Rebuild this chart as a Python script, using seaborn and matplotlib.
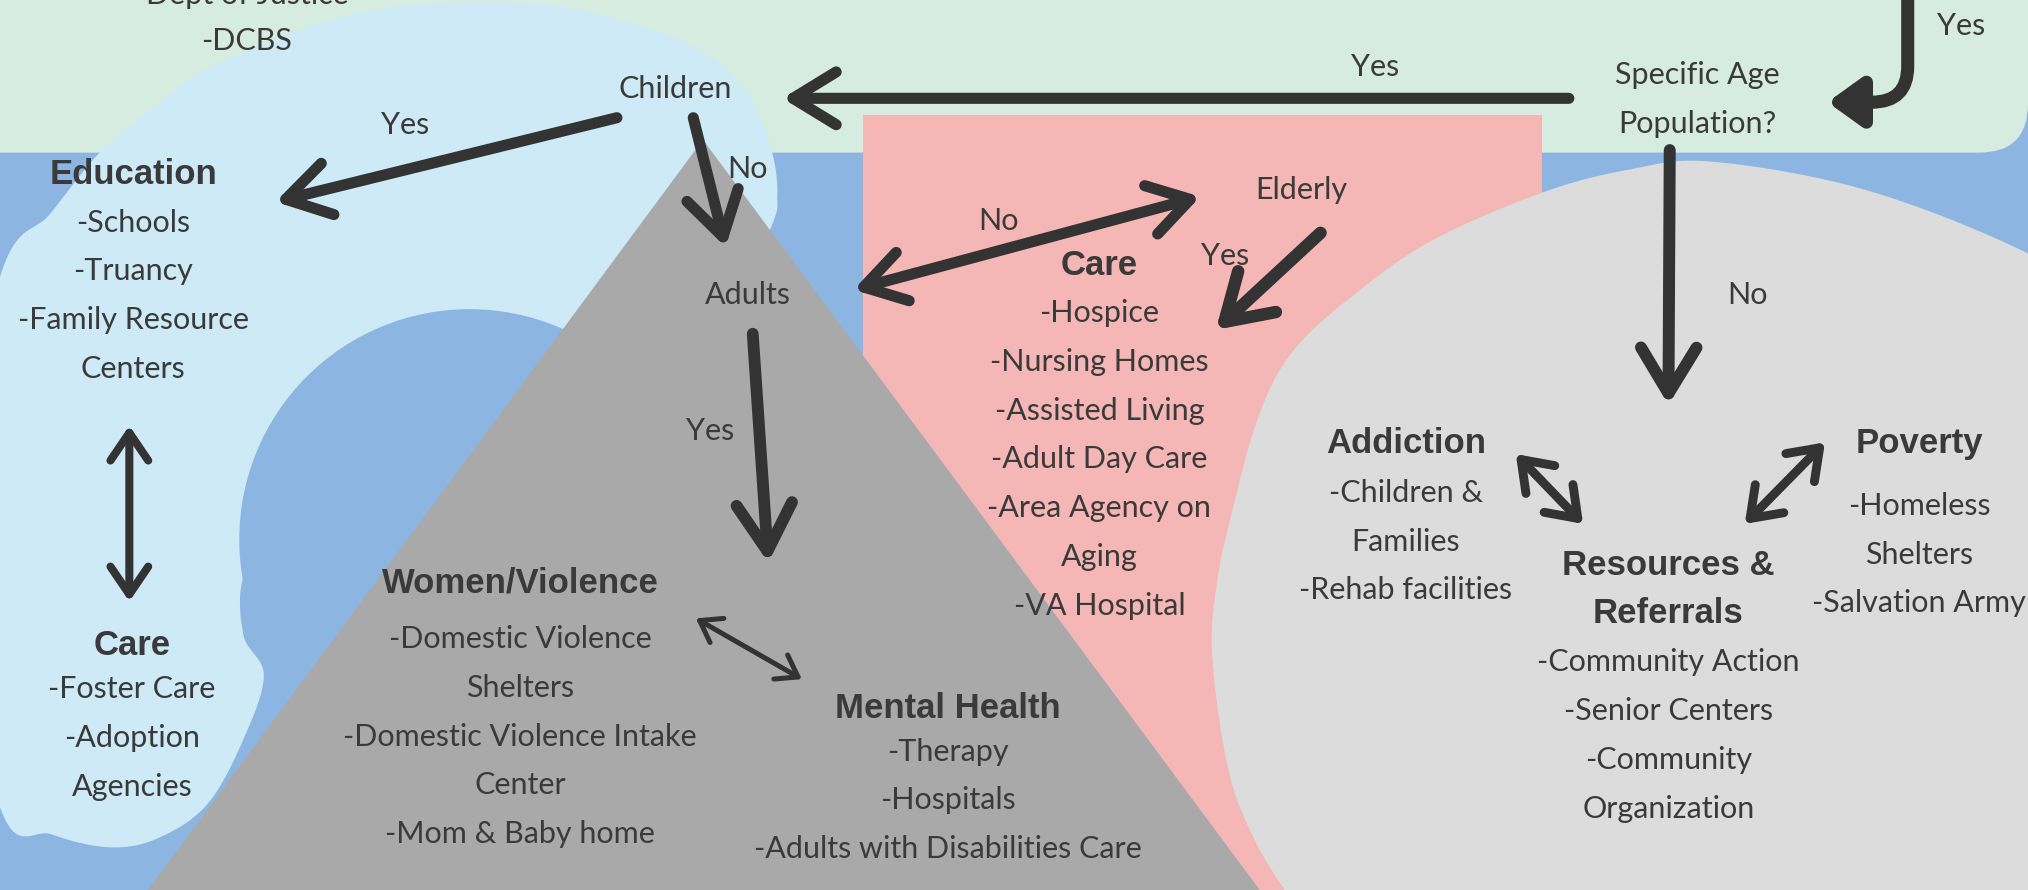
import numpy as np
import matplotlib
matplotlib.use("Agg")
import matplotlib.pyplot as plt
from matplotlib.patches import Polygon, Circle, Rectangle, FancyBboxPatch
import seaborn as sns

sns.set_theme(style="white")
plt.rcParams["font.family"] = ["Lato", "DejaVu Sans"]

# colours
BLUE = "#8cb6e1"
GREEN = "#d6ece0"
LIGHT_BLUE = "#cdeaf6"
PINK = "#f5b6b6"
DARK_GREY = "#a9a9a9"
LIGHT_GREY = "#dcdcdc"
INK = "#3a3a3a"
ARROW = "#333333"

# labels of the flow
question = ["Specific Age", "Population?"]
agency_items = ["Dept of Justice", "-DCBS"]
education_items = ["-Schools", "-Truancy", "-Family Resource", "Centers"]
foster_items = ["-Foster Care", "-Adoption", "Agencies"]
women_items = ["-Domestic Violence", "Shelters", "-Domestic Violence Intake",
               "Center", "-Mom & Baby home"]
mental_items = ["-Therapy", "-Hospitals", "-Adults with Disabilities Care"]
elderly_items = ["-Hospice", "-Nursing Homes", "-Assisted Living", "-Adult Day Care",
                 "-Area Agency on", "Aging", "-VA Hospital"]
addiction_items = ["-Children &", "Families", "-Rehab facilities"]
resource_items = ["-Community Action", "-Senior Centers", "-Community", "Organization"]
poverty_items = ["-Homeless", "Shelters", "-Salvation Army"]

ITEM_SIZE = 22
HEAD_SIZE = 25
STEP = 37.7


def smooth_closed(pts, n=24):
    # catmull-rom through the outline points
    pts = np.asarray(pts, float)
    P = np.vstack([pts[-1], pts, pts[0], pts[1]])
    t = np.linspace(0, 1, n, endpoint=False)[:, None]
    out = []
    for i in range(1, len(pts) + 1):
        p0, p1, p2, p3 = P[i - 1], P[i], P[i + 1], P[i + 2]
        out.append(0.5 * (2 * p1 + (-p0 + p2) * t + (2 * p0 - 5 * p1 + 4 * p2 - p3) * t ** 2
                          + (-p0 + 3 * p1 - 3 * p2 + p3) * t ** 3))
    return np.vstack(out)


fig = plt.figure(figsize=(20.28, 8.9), dpi=100)
ax = fig.add_axes([0, 0, 1, 1])
ax.set_xlim(0, 1568)
ax.set_ylim(688, 0)
ax.axis("off")

# background shapes
ax.add_patch(Rectangle((-10, -10), 1600, 710, color=BLUE, zorder=0))
ax.add_patch(FancyBboxPatch((-60, -60), 1628, 178, boxstyle="round,pad=0,rounding_size=38",
                            color=GREEN, lw=0, zorder=1))
light_blue = [(0, 214), (39, 165), (77, 118), (116, 85), (155, 56), (206, 33), (257, 15),
              (309, 5), (373, 1.5), (440, 6), (513, 26), (560, 52), (586, 88), (598, 122),
              (601, 152), (596, 176), (560, 250), (470, 320), (330, 340), (230, 380),
              (190, 440), (188, 490), (204, 522), (188, 572), (160, 622), (122, 648),
              (85, 655), (40, 645), (0, 624), (-40, 420)]
ax.add_patch(Polygon(smooth_closed(light_blue), color=LIGHT_BLUE, lw=0, zorder=2))
ax.add_patch(Circle((363, 417), 178, color=BLUE, lw=0, zorder=3))
ax.add_patch(Rectangle((667, 89), 525, 700, color=PINK, lw=0, zorder=4))
ax.add_patch(Polygon([(543.5, 108), (114.4, 688), (974, 688)], color=DARK_GREY, lw=0, zorder=5))
grey_blob = [(937, 503), (941, 450), (951, 402), (973, 322), (1000, 271), (1048, 227),
             (1107, 186), (1192, 149), (1260, 131), (1324, 125), (1443, 147), (1568, 196),
             (1650, 250), (1700, 450), (1700, 750), (1050, 760), (992, 686), (962, 632),
             (947, 582)]
ax.add_patch(Polygon(smooth_closed(grey_blob), color=LIGHT_GREY, lw=0, zorder=5))


def arrow(start, end, lw, hl, hw, both=False, filled=False, conn="arc3"):
    style = "<->" if both else ("-|>" if filled else "->")
    ax.annotate("", xy=end, xytext=start, zorder=8,
                arrowprops=dict(arrowstyle=f"{style},head_length={hl},head_width={hw}",
                                lw=lw, color=ARROW, shrinkA=0, shrinkB=0, mutation_scale=20,
                                capstyle="round", joinstyle="round", connectionstyle=conn))


arrow((1475, -20), (1413, 79), 9.4, 1.0, 0.72, filled=True,
      conn="angle,angleA=90,angleB=0,rad=36")
arrow((1213, 76), (605, 76), 8, 1.55, 0.95)
arrow((1291, 116), (1290, 313), 8.6, 1.65, 1.0)
arrow((477, 91), (213, 156), 8, 1.55, 0.95)
arrow((536, 91), (561, 191), 8, 1.55, 0.95)
arrow((660, 224), (928, 152), 8, 1.45, 0.9, both=True)
arrow((1021, 180), (940, 255), 9, 1.6, 1.0)
arrow((582, 258), (594, 435), 8.5, 1.7, 1.0)
arrow((100, 329), (100, 465), 5.8, 1.0, 0.68, both=True)
arrow((538, 478), (620, 525), 3.6, 0.72, 0.5, both=True)
arrow((1172, 351), (1224, 405), 6.4, 1.0, 0.72, both=True)
arrow((1411, 342), (1349, 405), 6.4, 1.0, 0.72, both=True)


def label(x, y, s, bold=False, size=None):
    if bold:
        ax.text(x, y, s, ha="center", va="center", color=INK, zorder=9,
                fontsize=size or HEAD_SIZE, fontweight="bold",
                family=["Liberation Sans", "DejaVu Sans"])
    else:
        ax.text(x, y, s, ha="center", va="center", color=INK, zorder=9,
                fontsize=size or ITEM_SIZE)


def block(x, y_head, heads, items, y_items, step=STEP):
    for k, h in enumerate(heads):
        label(x, y_head + k * 37, h, bold=True)
    for k, s in enumerate(items):
        label(x, y_items + k * step, s)


block(191, -4, [], agency_items, -4, step=36)
block(103, 135, ["Education"], education_items, 172)
block(102, 499, ["Care"], foster_items, 533)
block(402, 451, ["Women/Violence"], women_items, 494)
block(733, 548, ["Mental Health"], mental_items, 581)
block(850, 205, ["Care"], elderly_items, 242)
block(1087, 343, ["Addiction"], addiction_items, 381)
block(1290, 437, ["Resources &", "Referrals"], resource_items, 512)
block(1484, 343, ["Poverty"], poverty_items, 391)

# flow labels
label(522, 69, "Children")
label(313, 97, "Yes")
label(578, 131, "No")
label(578, 228, "Adults")
label(549, 333, "Yes")
label(1006, 147, "Elderly")
label(772, 171, "No")
label(947, 198, "Yes")
label(1063, 52, "Yes")
label(1312, 58, question[0])
label(1312, 96, question[1])
label(1516, 20, "Yes")
label(1351, 228, "No")

fig.savefig("out.png", dpi=100)
